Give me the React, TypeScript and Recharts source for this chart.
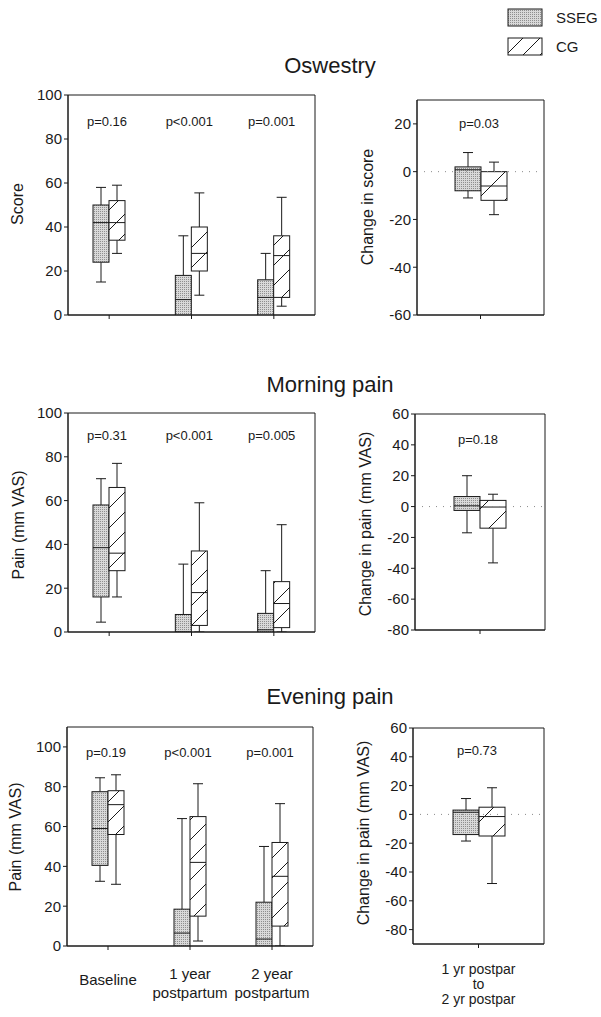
import React from 'react';
import { ComposedChart, Bar, XAxis, YAxis, ReferenceArea, ReferenceLine } from 'recharts';

const FONT = '"Liberation Sans", Arial, Helvetica, sans-serif';
const INK = '#1a1a1a';

const LEFT_CATS = ['Baseline', '1 year\npostpartum', '2 year\npostpartum'];
const RIGHT_CATS = ['1 yr postpar\nto\n2 yr postpar'];

// each box: [min, q1, median, q3, max]
const OSW_SSEG = [[15, 24, 42, 50, 58], [0, 0, 7, 18, 36], [0, 0, 8, 16, 28]];
const OSW_CG = [[28, 34, 42, 52, 59], [9, 20, 28, 40, 55.5], [4, 8, 27, 36, 53.5]];
const OSW_P = ['p=0.16', 'p<0.001', 'p=0.001'];
const OSW_CHG_SSEG = [[-11, -8, 0.8, 2, 8]];
const OSW_CHG_CG = [[-18, -12, -6, 0, 4]];
const OSW_CHG_P = ['p=0.03'];

const MOR_SSEG = [[4.5, 16, 38.5, 58, 70], [0, 0, 0, 8, 31], [0, 0, 1, 8.5, 28]];
const MOR_CG = [[16, 28, 36, 66, 77], [0, 3, 18, 37, 59], [0, 2, 13, 23, 49]];
const MOR_P = ['p=0.31', 'p<0.001', 'p=0.005'];
const MOR_CHG_SSEG = [[-17, -2.5, 0.5, 6.5, 20]];
const MOR_CHG_CG = [[-36.5, -14, -0.3, 4, 8]];
const MOR_CHG_P = ['p=0.18'];

const EVE_SSEG = [[32.5, 40.5, 59, 77.5, 84.5], [0, 0, 6.5, 18.5, 64], [0, 0, 3.5, 22, 50]];
const EVE_CG = [[31, 56, 71, 78, 86], [2.5, 15, 42, 65, 81.5], [0, 10, 35, 52, 71.5]];
const EVE_P = ['p=0.19', 'p<0.001', 'p=0.001'];
const EVE_CHG_SSEG = [[-18.5, -14, 1.5, 3, 11]];
const EVE_CHG_CG = [[-48, -15, -1.5, 5, 18.5]];
const EVE_CHG_P = ['p=0.73'];

const TICKS_100 = [0, 20, 40, 60, 80, 100];
const TICKS_OSW_CHG = [-60, -40, -20, 0, 20];
const TICKS_PAIN_CHG = [-80, -60, -40, -20, 0, 20, 40, 60];

const makeRows = (cats: string[], sseg: number[][], cg: number[][], p: string[]) =>
  cats.map((name, i) => ({
    name,
    sseg: [sseg[i][0], sseg[i][4]],
    cg: [cg[i][0], cg[i][4]],
    ssegStats: sseg[i],
    cgStats: cg[i],
    p: p[i],
  }));

const boxShape = (statsKey: string, fill: string, pLevel: number | null) => (props: any) => {
  const { x, y, width, height, payload } = props;
  const s: number[] = payload[statsKey];
  const top = Math.min(y, y + height);
  const bot = Math.max(y, y + height);
  const k = (bot - top) / (s[4] - s[0]);
  const yOf = (v: number) => bot - (v - s[0]) * k;
  const cx = x + width / 2;
  const q1 = yOf(s[1]);
  const q3 = yOf(s[3]);
  return (
    <g>
      {s[4] > s[3] && (
        <g stroke={INK} strokeWidth={1}>
          <line x1={cx} x2={cx} y1={q3} y2={yOf(s[4])} />
          <line x1={cx - 5} x2={cx + 5} y1={yOf(s[4])} y2={yOf(s[4])} />
        </g>
      )}
      {s[0] < s[1] && (
        <g stroke={INK} strokeWidth={1}>
          <line x1={cx} x2={cx} y1={q1} y2={yOf(s[0])} />
          <line x1={cx - 5} x2={cx + 5} y1={yOf(s[0])} y2={yOf(s[0])} />
        </g>
      )}
      <rect x={x} y={q3} width={width} height={q1 - q3} fill={fill} stroke={INK} strokeWidth={1} />
      <line x1={x} x2={x + width} y1={yOf(s[2])} y2={yOf(s[2])} stroke={INK} strokeWidth={1} />
      {pLevel !== null && (
        <text x={x + width - 2} y={yOf(pLevel)} textAnchor="middle" fontSize={13} fontFamily={FONT} fill={INK}>
          {payload.p}
        </text>
      )}
    </g>
  );
};

const CatTick = (props: any) => {
  const { x, y, payload, show, offsets, size } = props;
  if (!show) return null;
  const lines: string[] = String(payload.value).split('\n');
  const offs: number[] = offsets[lines.length];
  return (
    <g>
      {lines.map((ln, i) => (
        <text key={i} x={x} y={y + offs[i]} textAnchor="middle" fontSize={size} fontFamily={FONT} fill={INK}>
          {ln}
        </text>
      ))}
    </g>
  );
};

const AXIS_W = 50;
const M_TOP = 14;
const M_RIGHT = 5;

type Panel = {
  data: any[];
  plotLeft: number;
  plotTop: number;
  plotW: number;
  plotH: number;
  domain: [number, number];
  ticks: number[];
  barSize: number;
  hatch: string;
  pLevel: number;
  labels: boolean;
  zero: boolean;
};

const LEFT_OFFSETS = { 1: [33], 2: [27, 46] };
const RIGHT_OFFSETS = { 3: [24, 39, 54] };

const BoxPanel = ({ p, offsets, size }: { p: Panel; offsets: any; size: number }) => {
  const xh = p.labels ? 72 : 12;
  return (
    <div style={{ position: 'absolute', left: p.plotLeft - AXIS_W, top: p.plotTop - M_TOP }}>
      <ComposedChart
        width={AXIS_W + p.plotW + M_RIGHT}
        height={M_TOP + p.plotH + xh}
        data={p.data}
        margin={{ top: M_TOP, right: M_RIGHT, left: 0, bottom: 0 }}
        barGap={0}
        barSize={p.barSize}
      >
        <XAxis
          dataKey="name"
          height={xh}
          interval={0}
          tickSize={4}
          axisLine={{ stroke: INK }}
          tickLine={{ stroke: INK }}
          tick={<CatTick show={p.labels} offsets={offsets} size={size} />}
        />
        <YAxis
          type="number"
          width={AXIS_W}
          domain={p.domain}
          ticks={p.ticks}
          interval={0}
          allowDataOverflow
          tickSize={4}
          tickMargin={2}
          axisLine={{ stroke: INK }}
          tickLine={{ stroke: INK }}
          tick={{ fontSize: 15, fill: INK, fontFamily: FONT }}
        />
        {p.zero && <ReferenceLine y={0} stroke="#8a8a8a" strokeDasharray="1 6" />}
        <Bar dataKey="sseg" name="SSEG" isAnimationActive={false} shape={boxShape('ssegStats', 'url(#stipple)', p.pLevel)} />
        <Bar dataKey="cg" name="CG" isAnimationActive={false} shape={boxShape('cgStats', `url(#${p.hatch})`, null)} />
        <ReferenceArea y1={p.domain[0]} y2={p.domain[1]} fill="none" stroke={INK} strokeWidth={1} />
      </ComposedChart>
    </div>
  );
};

const PANELS: { p: Panel; offsets: any; size: number }[] = [
  {
    p: { data: makeRows(LEFT_CATS, OSW_SSEG, OSW_CG, OSW_P), plotLeft: 68, plotTop: 95, plotW: 247, plotH: 220, domain: [0, 100], ticks: TICKS_100, barSize: 16, hatch: 'hatchL', pLevel: 86, labels: false, zero: false },
    offsets: LEFT_OFFSETS,
    size: 15,
  },
  {
    p: { data: makeRows(RIGHT_CATS, OSW_CHG_SSEG, OSW_CHG_CG, OSW_CHG_P), plotLeft: 417, plotTop: 100, plotW: 127, plotH: 215, domain: [-60, 30], ticks: TICKS_OSW_CHG, barSize: 26, hatch: 'hatchR', pLevel: 18.3, labels: false, zero: true },
    offsets: RIGHT_OFFSETS,
    size: 14,
  },
  {
    p: { data: makeRows(LEFT_CATS, MOR_SSEG, MOR_CG, MOR_P), plotLeft: 68, plotTop: 413, plotW: 247, plotH: 219, domain: [0, 100], ticks: TICKS_100, barSize: 16, hatch: 'hatchL', pLevel: 87.7, labels: false, zero: false },
    offsets: LEFT_OFFSETS,
    size: 15,
  },
  {
    p: { data: makeRows(RIGHT_CATS, MOR_CHG_SSEG, MOR_CHG_CG, MOR_CHG_P), plotLeft: 415, plotTop: 414, plotW: 130, plotH: 216, domain: [-80, 60], ticks: TICKS_PAIN_CHG, barSize: 26, hatch: 'hatchR', pLevel: 40.5, labels: false, zero: true },
    offsets: RIGHT_OFFSETS,
    size: 14,
  },
  {
    p: { data: makeRows(LEFT_CATS, EVE_SSEG, EVE_CG, EVE_P), plotLeft: 67, plotTop: 727, plotW: 246, plotH: 219, domain: [0, 110], ticks: TICKS_100, barSize: 16, hatch: 'hatchL', pLevel: 95, labels: true, zero: false },
    offsets: LEFT_OFFSETS,
    size: 15,
  },
  {
    p: { data: makeRows(RIGHT_CATS, EVE_CHG_SSEG, EVE_CHG_CG, EVE_CHG_P), plotLeft: 413, plotTop: 728, plotW: 131, plotH: 216, domain: [-90, 60], ticks: TICKS_PAIN_CHG, barSize: 26, hatch: 'hatchR', pLevel: 41, labels: true, zero: true },
    offsets: RIGHT_OFFSETS,
    size: 14,
  },
];

const TITLES = [
  { text: 'Oswestry', y: 73 },
  { text: 'Morning pain', y: 392 },
  { text: 'Evening pain', y: 704 },
];

const AXIS_LABELS = [
  { text: 'Score', x: 17, y: 204 },
  { text: 'Change in score', x: 367, y: 207 },
  { text: 'Pain (mm VAS)', x: 18, y: 525 },
  { text: 'Change in pain (mm VAS)', x: 365, y: 524 },
  { text: 'Pain (mm VAS)', x: 15, y: 837 },
  { text: 'Change in pain (mm VAS)', x: 363, y: 833 },
];

export default function App() {
  return (
    <div style={{ position: 'absolute', left: 0, top: 0, width: 601, height: 1017, background: '#fff', fontFamily: FONT }}>
      <svg width={601} height={1017} style={{ position: 'absolute', left: 0, top: 0 }}>
        <defs>
          <pattern id="stipple" patternUnits="userSpaceOnUse" width={2} height={2}>
            <rect width={2} height={2} fill="#d9d9d9" />
            <rect width={1} height={1} fill="#8f8f8f" />
          </pattern>
          <pattern id="hatchL" patternUnits="userSpaceOnUse" width={20} height={20}>
            <rect width={20} height={20} fill="#fff" />
            <path d="M0,20 L20,0 M-2,2 L2,-2 M18,22 L22,18" stroke={INK} strokeWidth={1} />
          </pattern>
          <pattern id="hatchR" patternUnits="userSpaceOnUse" width={28} height={28}>
            <rect width={28} height={28} fill="#fff" />
            <path d="M0,28 L28,0 M-2,2 L2,-2 M26,30 L30,26" stroke={INK} strokeWidth={1} />
          </pattern>
          <pattern id="hatchLegend" patternUnits="userSpaceOnUse" width={17} height={17}>
            <rect width={17} height={17} fill="#fff" />
            <path d="M0,17 L17,0 M-2,2 L2,-2 M15,19 L19,15" stroke={INK} strokeWidth={1} />
          </pattern>
        </defs>
        {TITLES.map((t) => (
          <text key={t.text} x={330} y={t.y} textAnchor="middle" fontSize={22} fontFamily={FONT} fill={INK}>
            {t.text}
          </text>
        ))}
        {AXIS_LABELS.map((a, i) => (
          <text
            key={i}
            transform={`translate(${a.x},${a.y}) rotate(-90)`}
            textAnchor="middle"
            dominantBaseline="central"
            fontSize={16}
            fontFamily={FONT}
            fill={INK}
          >
            {a.text}
          </text>
        ))}
        <rect x={508} y={9} width={34} height={17} fill="url(#stipple)" stroke={INK} />
        <text x={556} y={23} fontSize={15} fontFamily={FONT} fill={INK}>SSEG</text>
        <rect x={508} y={38} width={34} height={17} fill="url(#hatchLegend)" stroke={INK} />
        <text x={556} y={52} fontSize={15} fontFamily={FONT} fill={INK}>CG</text>
      </svg>
      {PANELS.map((cfg, i) => (
        <BoxPanel key={i} p={cfg.p} offsets={cfg.offsets} size={cfg.size} />
      ))}
    </div>
  );
}
